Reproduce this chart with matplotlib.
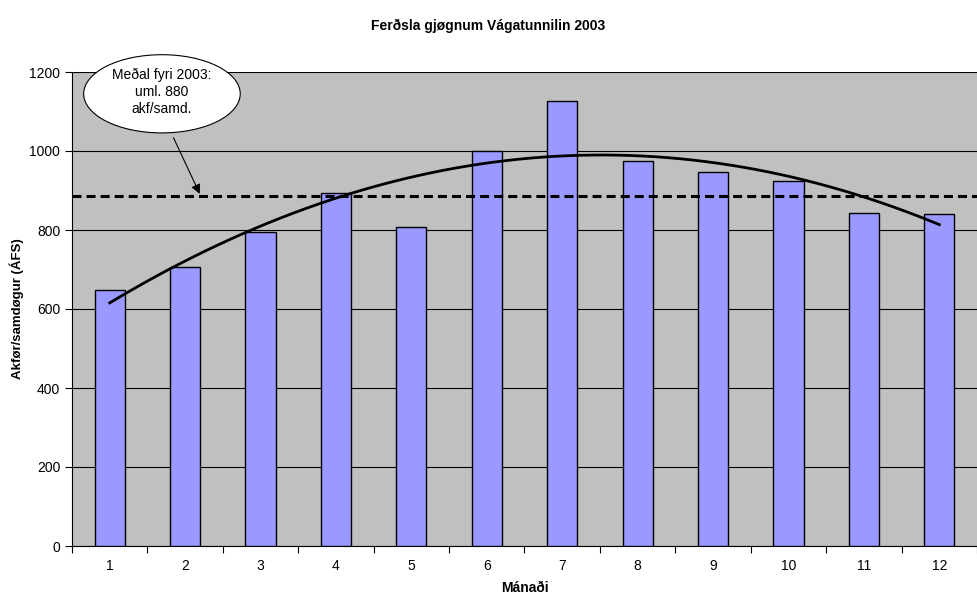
import numpy as np
import matplotlib.pyplot as plt
from matplotlib.patches import Ellipse

plt.rcParams['font.family'] = ['Liberation Sans', 'DejaVu Sans']

# data
months = [1, 2, 3, 4, 5, 6, 7, 8, 9, 10, 11, 12]
traffic = [648, 706, 795, 894, 808, 1001, 1127, 975, 948, 925, 843, 840]
avg_before = 885

fig = plt.figure(figsize=(9.77, 5.95), dpi=100)
ax = fig.add_axes([72/977, 1 - 546/595, 905/977, 474/595])
ax.set_facecolor('#c0c0c0')

ax.bar(months, traffic, width=0.4, color='#9999ff', edgecolor='black', linewidth=1, zorder=3)

# polynomial trendline (order 2)
coef = np.polyfit(months, traffic, 2)
xs = np.linspace(months[0], months[-1], 200)
ax.plot(xs, np.polyval(coef, xs), color='black', linewidth=2, zorder=4)

# average line
ax.axhline(avg_before, color='black', linestyle=(0, (2.95, 1.65)), linewidth=2.2, zorder=4)

ax.set_xlim(0.5, 12.5)
ax.set_ylim(0, 1200)
ax.set_yticks(range(0, 1201, 200))
ax.yaxis.grid(True, color='black', linewidth=0.8, zorder=1)
ax.set_axisbelow(True)

ax.set_xticks(np.arange(0.5, 12.6, 1))
ax.set_xticklabels([])
ax.set_xticks(months, minor=True)
ax.set_xticklabels([str(m) for m in months], minor=True)
ax.tick_params(axis='x', which='minor', length=0, pad=9, labelsize=10)
ax.tick_params(axis='x', which='major', length=5, direction='out')
ax.tick_params(axis='y', length=5, direction='out', labelsize=10)

for s in ['top', 'right']:
    ax.spines[s].set_visible(False)

ax.set_xlabel('Mánaði', fontsize=10, fontweight='bold', labelpad=6)
ax.set_ylabel('Akfør/samdøgur (ÁFS)', fontsize=9.5, fontweight='bold', labelpad=4)
fig.text(0.5, 1 - 26/595, 'Ferðsla gjøgnum Vágatunnilin 2003', ha='center', va='center',
         fontsize=10, fontweight='bold')

# callout
ell = Ellipse((0.0994, 0.954), 0.173, 0.165, transform=ax.transAxes, facecolor='white',
              edgecolor='black', linewidth=0.8, clip_on=False, zorder=6)
ax.add_patch(ell)
ax.text(0.0994, 0.958, 'Meðal fyri 2003:\numl. 880\nakf/samd.', transform=ax.transAxes,
        ha='center', va='center', fontsize=10, linespacing=1.25, zorder=7)
ax.annotate('', xy=(2.21, avg_before), xytext=(1.83, 1040),
            arrowprops=dict(arrowstyle='-|>', color='black', lw=0.8, mutation_scale=14),
            zorder=5)

plt.savefig('out.png', dpi=100)
